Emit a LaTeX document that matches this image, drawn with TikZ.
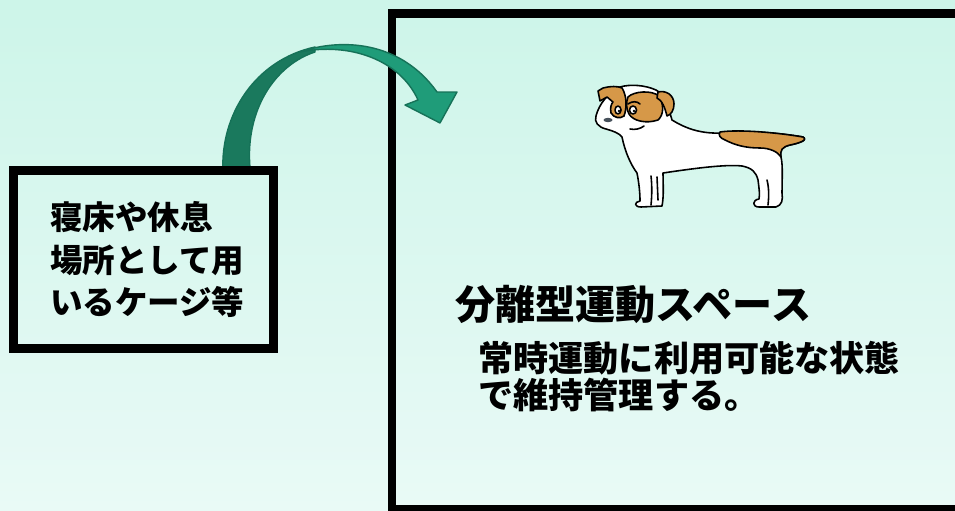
\documentclass[tikz,border=0pt]{standalone}
\usepackage{fontspec}
\setmainfont{Noto Sans CJK JP}
\usetikzlibrary{positioning}

\definecolor{bgtop}{RGB}{205,245,233}
\definecolor{bgbot}{RGB}{233,250,246}
\definecolor{arrowlite}{RGB}{31,156,121}
\definecolor{arrowdeep}{RGB}{26,121,93}
\definecolor{arrowedge}{RGB}{22,114,88}
\definecolor{fur}{RGB}{214,152,72}
\definecolor{nosegray}{RGB}{72,82,92}

\tikzset{
  frame/.style={draw=black, line width=5pt},
  bendarrow/.style={draw=arrowedge, line width=0.8pt, line join=round},
  dogline/.style={draw=black, line width=0.9pt, line join=round, line cap=round},
}

\begin{document}
\begin{tikzpicture}[x=0.02cm, y=-0.02cm]
  \useasboundingbox (0,0) rectangle (955,510);
  % soft mint background
  \shade[top color=bgtop, bottom color=bgbot] (0,0) rectangle (955,510);
  \clip (0,0) rectangle (955,510);

  % large exercise area, open on the right
  \node[frame, minimum width=11.66cm, minimum height=9.91cm, inner sep=0pt] (space) at (683.5,261.25) {};

  % curved block arrow from the cage into the area
  \fill[arrowdeep, bendarrow] (223,172)
    .. controls (220,115) and (255,60) .. (315,47)
    -- (315,52)
    .. controls (275,65) and (245,110) .. (250,168) -- cycle;
  \fill[arrowlite, bendarrow] (300,52)
    .. controls (340,38) and (400,40) .. (437,92)
    -- (457,92) -- (440,123) -- (405,105) -- (418,100)
    .. controls (400,60) and (350,42) .. (300,52) -- cycle;

  % cage box
  \node[frame, minimum width=5.2cm, minimum height=3.56cm, inner sep=0pt,
        text width=3.74cm, align=left,
        font=\bfseries\fontsize{18.5}{24.4}\selectfont] (cage) at (143.5,259.5)
    {寝床や休息\\場所として用\\いるケージ等};

  % dog: body and head in one outline
  \filldraw[fill=white, dogline] (596,116)
    .. controls (594,122) and (598,127) .. (606,129)
    .. controls (613,131) and (619,133) .. (622,137)
    .. controls (625,152) and (631,165) .. (637,173)
    .. controls (639,183) and (640,193) .. (640,201)
    .. controls (634,202) and (634,207) .. (641,207)
    -- (662,206)
    .. controls (664,196) and (663,183) .. (663,173)
    .. controls (690,169) and (725,164) .. (742,166)
    .. controls (752,168) and (756,172) .. (758,180)
    .. controls (759,188) and (760,194) .. (759,199)
    .. controls (752,200) and (752,207) .. (759,207)
    -- (776,207)
    .. controls (782,205) and (783,200) .. (782,193)
    .. controls (782,180) and (783,165) .. (781,157)
    .. controls (779,150) and (782,147) .. (790,145)
    .. controls (800,143) and (808,140) .. (803,137)
    .. controls (780,133) and (745,130) .. (722,133)
    .. controls (700,134) and (685,128) .. (672,120)
    .. controls (668,106) and (664,94) .. (656,90)
    .. controls (645,85) and (630,84) .. (620,87)
    .. controls (608,93) and (599,104) .. (596,116) -- cycle;
  % brown patch on the back and tail
  \filldraw[fill=fur, dogline] (720,132)
    .. controls (740,129) and (780,133) .. (803,137)
    .. controls (808,140) and (800,143) .. (790,145)
    .. controls (782,147) and (780,150) .. (781,157)
    .. controls (778,152) and (770,148) .. (760,148)
    .. controls (745,148) and (735,145) .. (725,140)
    .. controls (720,138) and (718,135) .. (720,132) -- cycle;
  % patch round the right eye, and the ears
  \filldraw[fill=fur, dogline] (628,97)
    .. controls (634,91) and (652,90) .. (659,96)
    .. controls (664,104) and (664,115) .. (658,120)
    .. controls (646,124) and (633,121) .. (629,114)
    .. controls (626,109) and (626,102) .. (628,97) -- cycle;
  \filldraw[fill=fur, dogline] (658,92)
    .. controls (666,90) and (674,95) .. (674,104)
    .. controls (674,110) and (671,115) .. (667,116)
    .. controls (665,108) and (662,100) .. (657,98) -- cycle;
  \filldraw[fill=fur, dogline] (598,91) -- (603,88)
    .. controls (610,86) and (618,86) .. (622,88)
    .. controls (627,96) and (627,108) .. (624,116)
    .. controls (620,119) and (614,118) .. (611,113)
    .. controls (610,108) and (611,104) .. (613,102)
    -- (607,97) -- (600,101) -- cycle;
  % eyes, nose, mouth
  \filldraw[fill=white, dogline] (618,110) ellipse (3 and 4);
  \fill (619,111) circle (1.3);
  \filldraw[fill=white, dogline] (633,110) ellipse (3.5 and 4);
  \fill (634,111) circle (1.3);
  \draw[dogline] (628,104) .. controls (632,101) and (637,101) .. (640,104);
  \fill[nosegray] (608,120) ellipse (4.5 and 2.2);
  \draw[dogline] (630,129) .. controls (635,130) and (640,129) .. (644,126);
  % legs
  \draw[dogline] (651,176) .. controls (652,185) and (652,195) .. (651,205);
  \draw[dogline] (657,177) -- (658,200);
  \draw[dogline] (767,180) .. controls (769,188) and (769,196) .. (768,205);

  % area description
  \node[anchor=west, inner sep=0pt, font=\bfseries\fontsize{22.8}{26}\selectfont] (title) at (455,304)
    {分離型運動スペース};
  \node[anchor=west, inner sep=0pt, align=left, font=\bfseries\fontsize{20}{21}\selectfont] (desc) at (478,377)
    {常時運動に利用可能な状態\\で維持管理する。};
\end{tikzpicture}
\end{document}
